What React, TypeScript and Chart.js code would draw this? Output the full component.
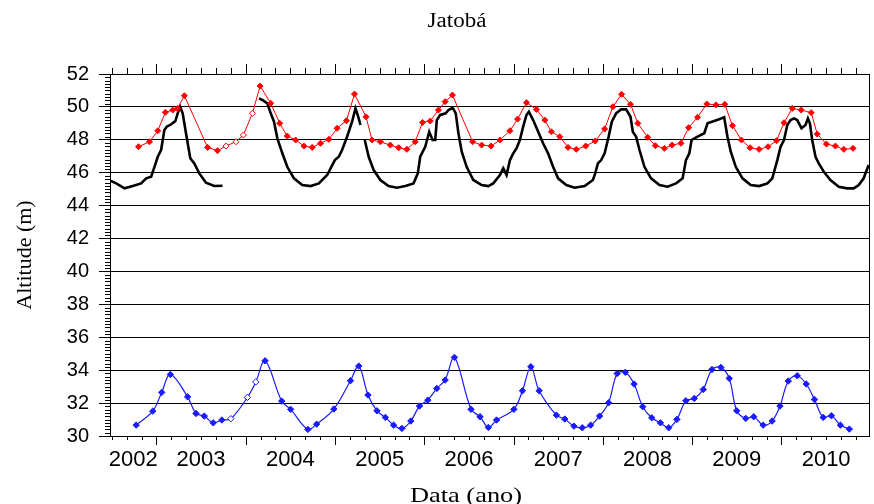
import React, { useEffect, useRef } from 'react';
import { Chart, registerables } from 'chart.js';

Chart.register(...registerables);

// ---- Text ----
const chartTitle = 'Jatobá';
const xAxisTitle = 'Data (ano)';
const yAxisTitle = 'Altitude (m)';

// ---- Axis ----
const xMin = 2002.48;
const xMax = 2010.98;
const yMin = 30;
const yMax = 52;
const yStep = 2;
const yearLabels = ['2002', '2003', '2004', '2005', '2006', '2007', '2008', '2009', '2010'];
const yearLabelPositions = [2002.74, 2003.5, 2004.5, 2005.5, 2006.5, 2007.5, 2008.5, 2009.5, 2010.5];

// ---- Red series (upper station, monthly marks) ----
const redT = [
  2002.799, 2002.922, 2003.015, 2003.100, 2003.182, 2003.234, 2003.313, 2003.573, 2003.684,
  2003.778, 2003.890, 2003.974, 2004.075, 2004.161, 2004.280, 2004.381, 2004.465, 2004.559,
  2004.652, 2004.744, 2004.838, 2004.931, 2005.023, 2005.128, 2005.218, 2005.347, 2005.414,
  2005.508, 2005.619, 2005.712, 2005.805, 2005.898, 2005.980, 2006.066, 2006.158, 2006.233,
  2006.315, 2006.541, 2006.642, 2006.747, 2006.847, 2006.959, 2007.044, 2007.144, 2007.256,
  2007.349, 2007.423, 2007.517, 2007.609, 2007.702, 2007.807, 2007.914, 2008.019, 2008.112,
  2008.209, 2008.309, 2008.391, 2008.502, 2008.588, 2008.689, 2008.774, 2008.874, 2008.960,
  2009.060, 2009.164, 2009.265, 2009.365, 2009.451, 2009.551, 2009.648, 2009.749, 2009.849,
  2009.945, 2010.028, 2010.121, 2010.221, 2010.333, 2010.400, 2010.503, 2010.604, 2010.698,
  2010.801,
];
const redV = [
  47.58, 47.88, 48.55, 49.67, 49.81, 49.90, 50.68, 47.54, 47.34,
  47.62, 47.88, 48.29, 49.61, 51.27, 50.22, 49.00, 48.23, 47.99,
  47.62, 47.54, 47.79, 48.03, 48.70, 49.16, 50.78, 49.40, 47.99,
  47.88, 47.68, 47.52, 47.42, 47.88, 49.06, 49.14, 49.81, 50.32,
  50.72, 47.88, 47.68, 47.62, 47.99, 48.55, 49.26, 50.26, 49.85,
  49.20, 48.49, 48.19, 47.54, 47.42, 47.62, 47.93, 48.66, 50.01,
  50.77, 50.16, 49.00, 48.15, 47.64, 47.48, 47.68, 47.79, 48.74,
  49.37, 50.18, 50.12, 50.16, 48.86, 47.99, 47.52, 47.42, 47.58,
  47.95, 49.04, 49.91, 49.81, 49.65, 48.35, 47.74, 47.62, 47.42,
  47.48,
];

// ---- Blue series (lower station, monthly marks) ----
const blueT = [
  2002.773, 2002.959, 2003.059, 2003.156, 2003.349, 2003.443, 2003.536, 2003.636, 2003.733,
  2003.834, 2004.019, 2004.113, 2004.217, 2004.403, 2004.503, 2004.696, 2004.794, 2004.987,
  2005.173, 2005.266, 2005.369, 2005.470, 2005.564, 2005.656, 2005.749, 2005.849, 2005.946,
  2006.039, 2006.140, 2006.233, 2006.337, 2006.523, 2006.624, 2006.717, 2006.809, 2007.003,
  2007.099, 2007.193, 2007.286, 2007.479, 2007.573, 2007.676, 2007.769, 2007.863, 2007.963,
  2008.064, 2008.160, 2008.251, 2008.349, 2008.446, 2008.547, 2008.644, 2008.737, 2008.829,
  2008.929, 2009.023, 2009.124, 2009.221, 2009.321, 2009.415, 2009.499, 2009.600, 2009.689,
  2009.794, 2009.895, 2009.983, 2010.076, 2010.176, 2010.277, 2010.369, 2010.467, 2010.559,
  2010.660, 2010.760,
];
const blueV = [
  30.66, 31.51, 32.65, 33.74, 32.38, 31.37, 31.21, 30.80, 30.97,
  31.05, 32.35, 33.29, 34.57, 32.12, 31.62, 30.40, 30.72, 31.64,
  33.36, 34.25, 32.49, 31.53, 31.13, 30.66, 30.46, 30.91, 31.82,
  32.18, 32.89, 33.40, 34.78, 31.62, 31.17, 30.52, 30.97, 31.62,
  32.75, 34.21, 32.75, 31.27, 31.03, 30.60, 30.50, 30.66, 31.21,
  32.02, 33.80, 33.87, 33.16, 31.78, 31.11, 30.80, 30.50, 31.01,
  32.14, 32.28, 32.83, 34.04, 34.17, 33.50, 31.53, 31.07, 31.17,
  30.66, 30.91, 31.82, 33.34, 33.66, 33.16, 32.22, 31.13, 31.23,
  30.66, 30.42,
];

// ---- Black series (daily record; null = gap) ----
const blackT = [
  2002.483, 2002.550, 2002.643, 2002.735, 2002.829, 2002.885, 2002.941, 2002.978, 2003.015,
  2003.052, 2003.089, 2003.115, 2003.164, 2003.212, 2003.238, 2003.265, 2003.294, 2003.331,
  2003.379, 2003.424, 2003.480, 2003.555, 2003.647, 2003.740, 2003.900,
  2004.150, 2004.186, 2004.242, 2004.280, 2004.317, 2004.354, 2004.410, 2004.465, 2004.540,
  2004.633, 2004.727, 2004.819, 2004.912, 2004.998, 2005.042, 2005.079, 2005.135, 2005.191,
  2005.229, 2005.254, 2005.285, 2005.305,
  2005.333, 2005.377, 2005.433, 2005.508, 2005.600, 2005.693, 2005.787, 2005.879, 2005.927,
  2005.954, 2006.010, 2006.055, 2006.092, 2006.122, 2006.140, 2006.177, 2006.240, 2006.270,
  2006.318, 2006.352, 2006.382, 2006.419, 2006.474, 2006.549, 2006.642, 2006.717, 2006.772,
  2006.847, 2006.884, 2006.921, 2006.959, 2006.996, 2007.032, 2007.070, 2007.107, 2007.144,
  2007.171, 2007.219, 2007.275, 2007.330, 2007.386, 2007.442, 2007.498, 2007.590, 2007.684,
  2007.796, 2007.888, 2007.914, 2007.944, 2007.981, 2008.019, 2008.064, 2008.100, 2008.148,
  2008.204, 2008.260, 2008.309, 2008.335, 2008.372, 2008.410, 2008.465, 2008.539, 2008.633,
  2008.725, 2008.818, 2008.893, 2008.930, 2008.968, 2008.993, 2009.060, 2009.135, 2009.172,
  2009.246, 2009.302, 2009.358, 2009.395, 2009.432, 2009.488, 2009.563, 2009.655, 2009.749,
  2009.842, 2009.897, 2009.953, 2009.990, 2010.028, 2010.065, 2010.102, 2010.140, 2010.176,
  2010.224, 2010.269, 2010.296, 2010.318, 2010.344, 2010.381, 2010.417, 2010.474, 2010.548,
  2010.642, 2010.734, 2010.809, 2010.865, 2010.920, 2010.976,
];
const blackV = [
  45.51, 45.35, 45.05, 45.19, 45.35, 45.66, 45.76, 46.36, 46.97,
  47.38, 48.60, 48.80, 48.94, 49.14, 49.61, 50.01, 49.61, 48.40,
  46.88, 46.57, 45.96, 45.39, 45.19, 45.21, null,
  50.52, 50.42, 50.22, 49.61, 49.10, 48.09, 47.18, 46.36, 45.66,
  45.25, 45.19, 45.35, 45.86, 46.77, 46.97, 47.38, 48.19, 49.10,
  49.91, 49.51, 48.90, null,
  47.99, 46.97, 46.16, 45.56, 45.19, 45.09, 45.19, 45.35, 45.96,
  46.97, 47.58, 48.49, 47.99, 47.99, 49.20, 49.51, 49.61, 49.81,
  49.95, 49.61, 48.40, 47.28, 46.36, 45.56, 45.25, 45.19, 45.35,
  45.86, 46.27, 45.86, 46.77, 47.18, 47.48, 47.99, 48.80, 49.51,
  49.71, 49.20, 48.49, 47.79, 47.18, 46.36, 45.66, 45.25, 45.09,
  45.19, 45.56, 45.96, 46.57, 46.77, 47.18, 48.19, 49.10, 49.61,
  49.85, 49.85, 49.40, 48.49, 48.19, 47.38, 46.36, 45.66, 45.25,
  45.15, 45.35, 45.66, 46.77, 47.18, 47.99, 48.19, 48.40, 49.00,
  49.14, 49.25, 49.37, 48.19, 47.28, 46.36, 45.66, 45.25, 45.19,
  45.35, 45.66, 46.77, 47.58, 47.99, 48.90, 49.20, 49.30, 49.20,
  48.70, 48.90, 49.30, 49.00, 47.99, 46.97, 46.57, 46.06, 45.56,
  45.15, 45.05, 45.05, 45.25, 45.66, 46.47,
];

// marks inside this window are drawn hollow (gap-filled readings)
const hollowWindow = [2003.75, 2004.14];

const toPoints = (ts: number[], vs: (number | null)[]) => ts.map((t, i) => ({ x: t, y: vs[i] }));

const isHollow = (t: number) => t > hollowWindow[0] && t < hollowWindow[1];

const framePlugin = {
  id: 'frameAndText',
  afterDraw(chart: any) {
    const { ctx, chartArea, scales } = chart;
    const { left, right, top, bottom } = chartArea;
    const xs = scales.x;
    const ys = scales.y;
    ctx.save();
    ctx.strokeStyle = '#000';
    ctx.lineWidth = 1;
    ctx.beginPath();
    // right border
    ctx.moveTo(Math.round(right) + 0.5, top);
    ctx.lineTo(Math.round(right) + 0.5, bottom);
    // x tick marks (bi-monthly minor, yearly major) bottom & top
    const kStart = Math.ceil(xMin * 6);
    const kEnd = Math.floor(xMax * 6);
    for (let k = kStart; k <= kEnd; k++) {
      const px = Math.round(xs.getPixelForValue(k / 6)) + 0.5;
      const major = k % 6 === 0;
      const lenB = major ? 9 : 4;
      const lenT = major ? 10 : 6;
      ctx.moveTo(px, bottom);
      ctx.lineTo(px, bottom + lenB);
      ctx.moveTo(px, top);
      ctx.lineTo(px, top - lenT);
    }
    // y minor ticks every 0.2
    for (let k = yMin * 5; k <= yMax * 5; k++) {
      if (k % 10 === 0) continue;
      const py = Math.round(ys.getPixelForValue(k / 5)) + 0.5;
      ctx.moveTo(left - 5, py);
      ctx.lineTo(left, py);
    }
    ctx.stroke();

    // titles (serif, slightly widened like the source)
    ctx.fillStyle = '#000';
    ctx.textAlign = 'center';
    ctx.textBaseline = 'alphabetic';
    ctx.font = '20px "Liberation Serif"';
    ctx.save();
    ctx.translate(457, 27);
    ctx.scale(1.15, 1);
    ctx.fillText(chartTitle, 0, 0);
    ctx.restore();
    ctx.font = '22px "Liberation Serif"';
    ctx.save();
    ctx.translate(466, 502);
    ctx.scale(1.2, 1);
    ctx.fillText(xAxisTitle, 0, 0);
    ctx.restore();
    ctx.restore();
  },
};

export default function App() {
  const canvasRef = useRef<HTMLCanvasElement | null>(null);

  useEffect(() => {
    const canvas = canvasRef.current;
    if (!canvas) return;
    const chart = new Chart(canvas, {
      type: 'line',
      data: {
        datasets: [
          {
            label: 'red',
            data: toPoints(redT, redV),
            borderColor: '#ff0000',
            borderWidth: 1,
            pointStyle: 'rectRot',
            pointRadius: 3,
            pointBorderWidth: 1,
            pointBorderColor: '#ff0000',
            pointBackgroundColor: redT.map((t) => (isHollow(t) ? '#ffffff' : '#ff0000')),
            tension: 0,
          },
          {
            label: 'blue',
            data: toPoints(blueT, blueV),
            borderColor: '#1a1aff',
            borderWidth: 1.2,
            pointStyle: 'rectRot',
            pointRadius: 3.2,
            pointBorderWidth: 1,
            pointBorderColor: '#1a1aff',
            pointBackgroundColor: blueT.map((t) => (isHollow(t) ? '#ffffff' : '#1a1aff')),
            tension: 0.35,
          },
          {
            label: 'black',
            data: toPoints(blackT, blackV),
            borderColor: '#000000',
            borderWidth: 2.6,
            pointRadius: 0,
            tension: 0,
            spanGaps: false,
          },
        ],
      },
      options: {
        responsive: false,
        maintainAspectRatio: false,
        devicePixelRatio: 1,
        animation: false,
        layout: { padding: { top: 74, right: 2, bottom: 0, left: 0 } },
        plugins: {
          legend: { display: false },
          tooltip: { enabled: false },
          title: { display: false },
        },
        scales: {
          x: {
            type: 'linear',
            min: xMin,
            max: xMax,
            afterBuildTicks: (s: any) => {
              s.ticks = yearLabelPositions.map((v) => ({ value: v }));
            },
            afterFit: (s: any) => {
              s.height = 68;
            },
            ticks: {
              autoSkip: false,
              maxRotation: 0,
              color: '#000',
              padding: 11,
              font: { family: 'Liberation Sans', size: 22 },
              callback: (_v: any, i: number) => yearLabels[i],
            },
            grid: { display: true, drawOnChartArea: false, drawTicks: false, color: 'rgba(0,0,0,0)' },
            border: { display: true, color: '#000', width: 1 },
          },
          y: {
            type: 'linear',
            min: yMin,
            max: yMax,
            afterFit: (s: any) => {
              s.width = 110;
            },
            ticks: {
              stepSize: yStep,
              color: '#000',
              padding: 10,
              font: { family: 'Liberation Sans', size: 20 },
            },
            grid: { color: '#000', lineWidth: 1, drawTicks: true, tickLength: 11 },
            border: { display: true, color: '#000', width: 1 },
            title: {
              display: true,
              text: yAxisTitle,
              color: '#000',
              font: { family: 'Liberation Serif', size: 22 },
              padding: { top: 12, bottom: 0 },
            },
          },
        },
      },
      plugins: [framePlugin],
    } as any);
    return () => chart.destroy();
  }, []);

  return (
    <div style={{ position: 'fixed', left: 0, top: 0, width: 874, height: 504, background: '#fff' }}>
      <canvas ref={canvasRef} width={874} height={504} style={{ display: 'block', width: 874, height: 504 }} />
    </div>
  );
}
